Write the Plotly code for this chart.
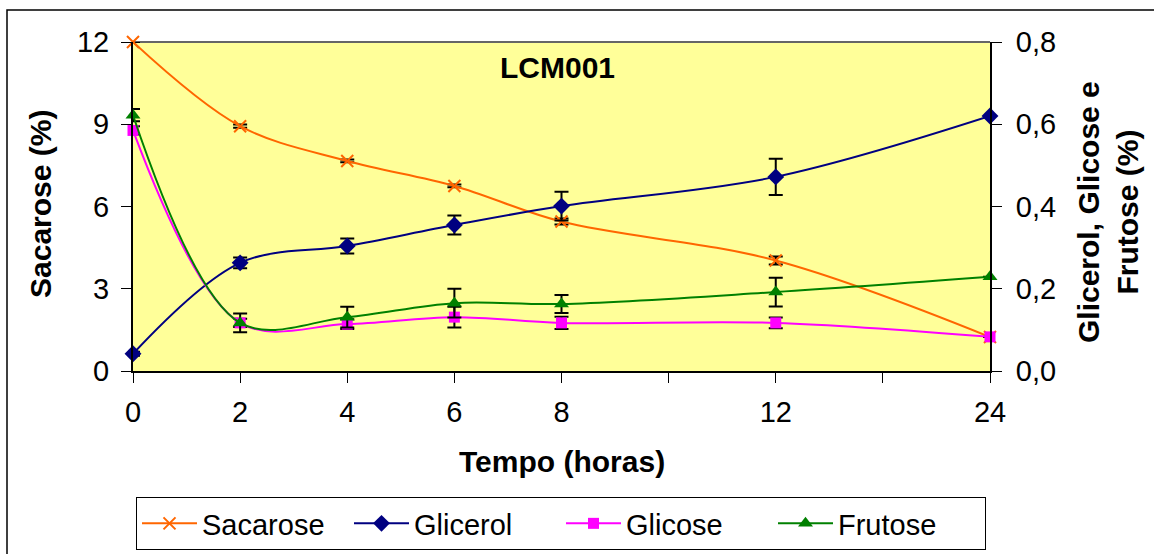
import plotly.graph_objects as go

# ---- data ----
time_labels = ["0", "2", "4", "6", "8", " ", "12", "  ", "24"]  # blank slots = unlabeled category positions
sacarose = [12.0, 8.93, 7.66, 6.75, 5.45, None, 4.03, None, 1.24]
sacarose_err = [0, 0.06, 0.05, 0.05, 0.11, None, 0.15, None, 0]
glicerol = [0.042, 0.263, 0.304, 0.355, 0.401, None, 0.472, None, 0.62]
glicerol_err = [0.005, 0.013, 0.018, 0.023, 0.035, None, 0.044, None, 0]
glicose = [0.585, 0.117, 0.114, 0.131, 0.117, None, 0.117, None, 0.083]
glicose_err = [0.01, 0.01, 0.012, 0.025, 0.015, None, 0.013, None, 0]
frutose = [0.622, 0.117, 0.131, 0.165, 0.163, None, 0.192, None, 0.229]
frutose_err = [0.015, 0.023, 0.025, 0.035, 0.022, None, 0.035, None, 0]

FONT = "Arial, Liberation Sans, sans-serif"
W, H = 1154, 554
L, R, T, B = 133, 164, 42, 183
pw, ph = W - L - R, H - T - B

def px2x(px):
    return (px - L) / pw

def px2y(py):
    return (H - B - py) / ph

def err(v):
    return dict(type="data", array=v, visible=True, color="black", thickness=2, width=7)

fig = go.Figure()
fig.add_trace(go.Scatter(
    x=time_labels, y=sacarose, name="Sacarose", mode="lines+markers",
    line=dict(color="#FF6600", width=2, shape="spline", smoothing=1),
    marker=dict(symbol="x-thin-open", size=12, line=dict(color="#FF6600", width=2)),
    error_y=err(sacarose_err), connectgaps=True, cliponaxis=False, yaxis="y"))
fig.add_trace(go.Scatter(
    x=time_labels, y=glicerol, name="Glicerol", mode="lines+markers",
    line=dict(color="#000080", width=2, shape="spline", smoothing=1),
    marker=dict(symbol="diamond", size=13, color="#000080"),
    error_y=err(glicerol_err), connectgaps=True, cliponaxis=False, yaxis="y2"))
fig.add_trace(go.Scatter(
    x=time_labels, y=glicose, name="Glicose", mode="lines+markers",
    line=dict(color="#FF00FF", width=2, shape="spline", smoothing=1),
    marker=dict(symbol="square", size=11, color="#FF00FF"),
    error_y=err(glicose_err), connectgaps=True, cliponaxis=False, yaxis="y2"))
fig.add_trace(go.Scatter(
    x=time_labels, y=frutose, name="Frutose", mode="lines+markers",
    line=dict(color="#008000", width=2, shape="spline", smoothing=1),
    marker=dict(symbol="triangle-up", size=13, color="#008000"),
    error_y=err(frutose_err), connectgaps=True, cliponaxis=False, yaxis="y2"))

tickfont = dict(family=FONT, size=29, color="black")

fig.update_layout(
    width=W, height=H,
    margin=dict(l=L, r=R, t=T, b=B, pad=0, autoexpand=False),
    paper_bgcolor="white", plot_bgcolor="#FFFF99",
    separators=",.",
    font=dict(family=FONT, color="black"),
    showlegend=True,
    legend=dict(orientation="h", xref="container", yref="container",
                x=561 / W, xanchor="center", y=1 - 497 / H, yanchor="top",
                bordercolor="black", borderwidth=1, bgcolor="white",
                font=dict(family=FONT, size=29, color="black"),
                itemwidth=55, entrywidth=142, traceorder="normal"),
    xaxis=dict(type="category", categoryorder="array", categoryarray=time_labels,
               range=[0, len(time_labels) - 1], showline=True, linecolor="black", linewidth=2,
               ticks="outside", ticklen=10, tickcolor="black", tickwidth=1,
               tickfont=tickfont, showgrid=False, zeroline=False, ticklabelstandoff=4),
    yaxis=dict(range=[0, 12], tick0=0, dtick=3, showline=True, linecolor="black", linewidth=2,
               ticks="outside", ticklen=10, tickcolor="black", tickwidth=1,
               tickfont=tickfont, showgrid=False, zeroline=False, ticklabelstandoff=6),
    yaxis2=dict(range=[0, 0.8], tick0=0, dtick=0.2, tickformat=".1f", overlaying="y", side="right",
                anchor="x", showline=True, linecolor="black", linewidth=2,
                ticks="outside", ticklen=10, tickcolor="black", tickwidth=1,
                tickfont=tickfont, showgrid=False, zeroline=False, ticklabelstandoff=8),
    yaxis3=dict(range=[0, 12], tick0=0, dtick=3, overlaying="y", side="left", anchor="x",
                ticks="inside", ticklen=10, tickcolor="black", tickwidth=1,
                showticklabels=False, showgrid=False, zeroline=False, showline=False),
    yaxis4=dict(range=[0, 0.8], tick0=0, dtick=0.2, overlaying="y", side="right", anchor="x",
                ticks="inside", ticklen=10, tickcolor="black", tickwidth=1,
                showticklabels=False, showgrid=False, zeroline=False, showline=False),
)

# plot area top border and outer chart border
fig.add_shape(type="line", xref="paper", yref="paper", x0=0, x1=1, y0=1, y1=1,
              line=dict(color="#666666", width=2), layer="below")
fig.add_shape(type="rect", xref="paper", yref="paper",
              x0=px2x(7), x1=px2x(1165), y0=px2y(565), y1=px2y(10),
              line=dict(color="black", width=1.5), layer="below")

title_font = dict(family=FONT, size=30, color="black")
common = dict(xref="paper", yref="paper", showarrow=False, xanchor="center", yanchor="middle",
              font=title_font)
fig.add_annotation(text="<b>LCM001</b>", x=px2x(557), y=px2y(67), **common)
fig.add_annotation(text="<b>Tempo (horas)</b>", x=px2x(562), y=px2y(461), **common)
fig.add_annotation(text="<b>Sacarose (%)</b>", x=px2x(40), y=px2y(204), textangle=-90, **common)
fig.add_annotation(text="<b>Glicerol, Glicose e<br>Frutose (%)</b>", x=px2x(1108), y=px2y(212),
                   textangle=-90, **common)

fig.write_html("out.html", config={"displayModeBar": False},
               post_script="document.body.style.margin='0';")
